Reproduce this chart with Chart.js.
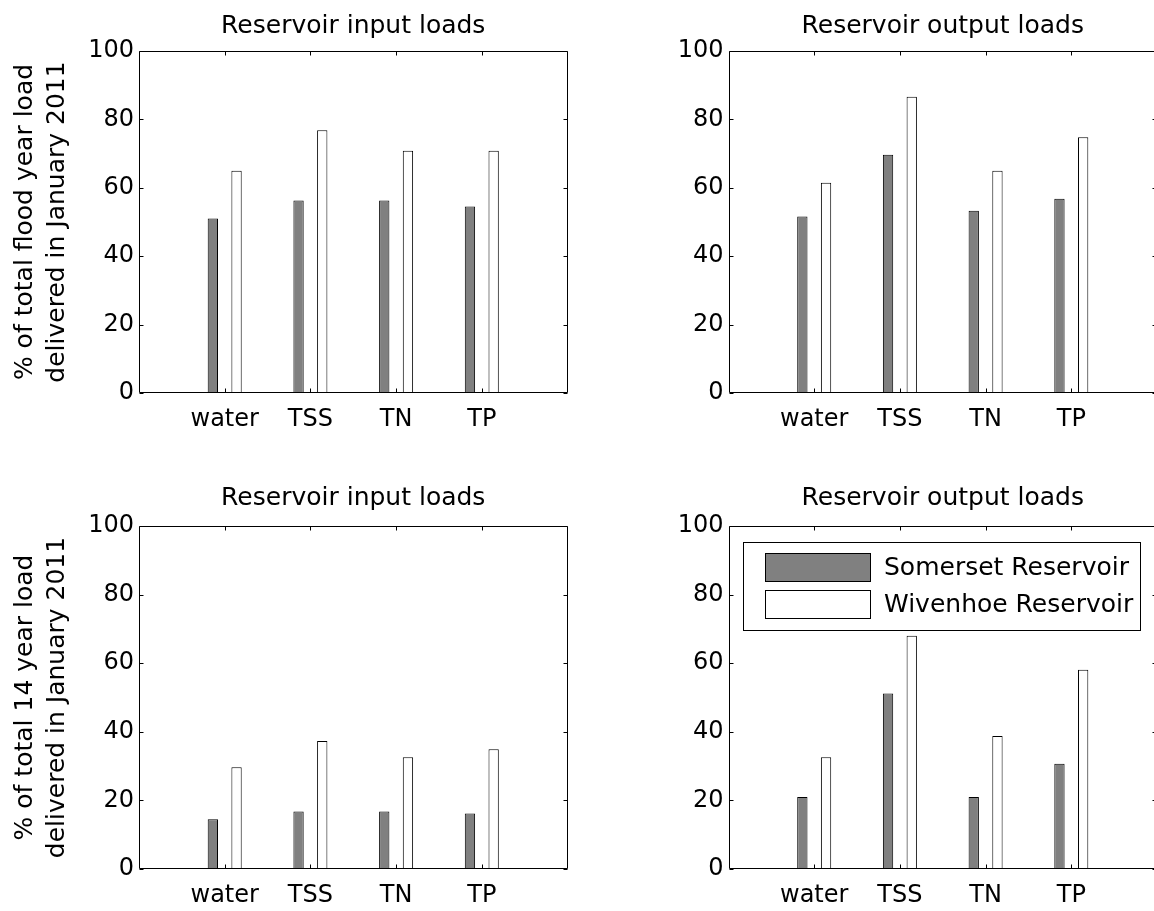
<!DOCTYPE html>
<html>
<head>
<meta charset="utf-8">
<title>Reservoir loads delivered in January 2011</title>
<script src="https://cdn.jsdelivr.net/npm/chart.js@4.4.1/dist/chart.umd.min.js"></script>
<style>
  html, body { margin: 0; padding: 0; background: #fff; overflow: hidden; }
  #figure { position: relative; width: 1154px; height: 911px; overflow: hidden; }
  #figure canvas { position: absolute; display: block; }
</style>
</head>
<body>
<div id="figure">
  <canvas id="floodInput" width="580" height="455" style="left:0;top:0"></canvas>
  <canvas id="floodOutput" width="580" height="455" style="left:580px;top:0"></canvas>
  <canvas id="longInput" width="580" height="456" style="left:0;top:455px"></canvas>
  <canvas id="longOutput" width="580" height="456" style="left:580px;top:455px"></canvas>
</div>
<script>
(function () {
    'use strict';

    // data (% of load delivered in January 2011)
    const categories = ['water', 'TSS', 'TN', 'TP'];
    const seriesNames = ['Somerset Reservoir', 'Wivenhoe Reservoir'];
    const yTicks = [0, 20, 40, 60, 80, 100];

    const floodInputSomerset = [51.0, 56.3, 56.3, 54.5];
    const floodInputWivenhoe = [65.0, 76.8, 70.8, 70.8];
    const floodOutputSomerset = [51.6, 69.7, 53.3, 56.8];
    const floodOutputWivenhoe = [61.5, 86.6, 65.0, 74.8];
    const longInputSomerset = [14.5, 16.8, 16.8, 16.2];
    const longInputWivenhoe = [29.7, 37.3, 32.6, 34.9];
    const longOutputSomerset = [21.0, 51.2, 21.0, 30.7];
    const longOutputWivenhoe = [32.6, 68.0, 38.8, 58.1];

    const floodYLabel = ['% of total flood year load', 'delivered in January 2011'];
    const longYLabel = ['% of total 14 year load', 'delivered in January 2011'];

    const palette = {
        somerset: '#808080',
        wivenhoe: '#ffffff',
        edge: '#000000',
        text: '#000000'
    };

    Chart.defaults.font.family = "'DejaVu Sans', sans-serif";
    Chart.defaults.color = palette.text;

    // MATLAB-style box with inward tick marks on all four sides
    const axesFrame = {
        id: 'axesFrame',
        afterDatasetsDraw(chart, args, opts) {
            const { ctx, chartArea: area, scales: { x, y } } = chart;
            const len = opts.tickLength || 4;
            const left = Math.round(area.left) + 0.5;
            const right = Math.round(area.right) - 0.5;
            const top = Math.round(area.top) + 0.5;
            const bottom = Math.round(area.bottom) - 0.5;
            ctx.save();
            ctx.strokeStyle = palette.edge;
            ctx.lineWidth = 1;
            ctx.beginPath();
            ctx.rect(left, top, right - left, bottom - top);
            x.ticks.forEach((tick, i) => {
                if (!tick.label) return;
                const px = Math.round(x.getPixelForTick(i)) + 0.5;
                ctx.moveTo(px, bottom);
                ctx.lineTo(px, bottom - len);
                ctx.moveTo(px, top);
                ctx.lineTo(px, top + len);
            });
            y.ticks.forEach((tick) => {
                const py = Math.round(y.getPixelForValue(tick.value)) + 0.5;
                ctx.moveTo(left, py);
                ctx.lineTo(left + len, py);
                ctx.moveTo(right, py);
                ctx.lineTo(right - len, py);
            });
            ctx.stroke();
            ctx.restore();
        }
    };

    // framed legend floating inside the plot area
    const boxLegend = {
        id: 'boxLegend',
        afterDraw(chart, args, opts) {
            if (!opts.display) return;
            const { ctx, chartArea: area } = chart;
            const bx = Math.round(area.left + opts.left) + 0.5;
            const by = Math.round(area.top + opts.top) + 0.5;
            ctx.save();
            ctx.fillStyle = '#ffffff';
            ctx.strokeStyle = palette.edge;
            ctx.lineWidth = 1;
            ctx.fillRect(bx, by, opts.width, opts.height);
            ctx.strokeRect(bx, by, opts.width, opts.height);
            ctx.font = opts.fontSize + "px 'DejaVu Sans', sans-serif";
            ctx.textBaseline = 'middle';
            ctx.textAlign = 'left';
            chart.data.datasets.forEach((ds, i) => {
                const sy = Math.round(by + opts.rowTop + i * opts.rowStep) + 0.5;
                const sx = Math.round(bx + opts.swatchLeft) + 0.5;
                ctx.fillStyle = ds.backgroundColor;
                ctx.fillRect(sx, sy, opts.swatchWidth, opts.swatchHeight);
                ctx.strokeRect(sx, sy, opts.swatchWidth, opts.swatchHeight);
                ctx.fillStyle = palette.text;
                ctx.fillText(ds.label, bx + opts.textLeft, sy + opts.swatchHeight / 2 + 1);
            });
            ctx.restore();
        }
    };

    function padded(values) {
        return [null, ...values, null];
    }

    function makePanel(id, cfg) {
        const canvas = document.getElementById(id);
        if (!canvas) return null;
        return new Chart(canvas, {
            type: 'bar',
            data: {
                labels: ['', ...categories, ''],
                datasets: [
                    {
                        label: seriesNames[0],
                        data: padded(cfg.somerset),
                        backgroundColor: palette.somerset,
                        borderColor: palette.edge,
                        borderWidth: 1,
                        borderSkipped: false
                    },
                    {
                        label: seriesNames[1],
                        data: padded(cfg.wivenhoe),
                        backgroundColor: palette.wivenhoe,
                        borderColor: palette.edge,
                        borderWidth: 1,
                        borderSkipped: false
                    }
                ]
            },
            options: {
                responsive: false,
                animation: false,
                events: [],
                layout: { padding: { left: 0, top: 0, right: cfg.padRight, bottom: 0 } },
                datasets: { bar: { categoryPercentage: 0.553, barPercentage: 0.435 } },
                plugins: {
                    legend: { display: false },
                    tooltip: { enabled: false },
                    title: {
                        display: true,
                        fullSize: false,
                        text: cfg.title,
                        color: palette.text,
                        font: { size: 25, weight: 'normal', lineHeight: 1.2 },
                        padding: { top: cfg.titleTop, bottom: cfg.titleBottom }
                    },
                    axesFrame: { tickLength: 4 },
                    boxLegend: cfg.legend || { display: false }
                },
                scales: {
                    x: {
                        offset: false,
                        grid: { display: false, drawTicks: false },
                        border: { display: false },
                        ticks: {
                            autoSkip: false,
                            maxRotation: 0,
                            padding: 12,
                            color: palette.text,
                            font: { size: 24 }
                        },
                        afterFit: (scale) => {
                            scale.height = cfg.xHeight;
                            // edge labels are empty, so no side padding is needed
                            scale.paddingLeft = 0;
                            scale.paddingRight = 0;
                        }
                    },
                    y: {
                        min: 0,
                        max: 100,
                        grid: { display: false, drawTicks: false },
                        border: { display: false },
                        ticks: {
                            padding: 5,
                            color: palette.text,
                            font: { size: 24 }
                        },
                        afterBuildTicks: (scale) => {
                            scale.ticks = yTicks.map((v) => ({ value: v }));
                        },
                        title: {
                            display: !!cfg.yLabel,
                            text: cfg.yLabel || '',
                            color: palette.text,
                            font: { size: 25, lineHeight: 1.28 },
                            padding: { top: 9, bottom: 0 }
                        },
                        afterFit: (scale) => { scale.width = cfg.yWidth; }
                    }
                }
            },
            plugins: [axesFrame, boxLegend]
        });
    }

    makePanel('floodInput', {
        title: 'Reservoir input loads',
        somerset: floodInputSomerset,
        wivenhoe: floodInputWivenhoe,
        yLabel: floodYLabel,
        yWidth: 139,
        padRight: 12.5,
        titleTop: 11,
        titleBottom: 10,
        xHeight: 62
    });

    makePanel('floodOutput', {
        title: 'Reservoir output loads',
        somerset: floodOutputSomerset,
        wivenhoe: floodOutputWivenhoe,
        yWidth: 148.5,
        padRight: 3,
        titleTop: 11,
        titleBottom: 10,
        xHeight: 62
    });

    makePanel('longInput', {
        title: 'Reservoir input loads',
        somerset: longInputSomerset,
        wivenhoe: longInputWivenhoe,
        yLabel: longYLabel,
        yWidth: 139,
        padRight: 12.5,
        titleTop: 28,
        titleBottom: 13,
        xHeight: 42
    });

    makePanel('longOutput', {
        title: 'Reservoir output loads',
        somerset: longOutputSomerset,
        wivenhoe: longOutputWivenhoe,
        yWidth: 148.5,
        padRight: 3,
        titleTop: 28,
        titleBottom: 13,
        xHeight: 42,
        legend: {
            display: true,
            left: 14.5,
            top: 16,
            width: 397,
            height: 88,
            swatchLeft: 21.5,
            swatchWidth: 105,
            swatchHeight: 28,
            rowTop: 10,
            rowStep: 37.7,
            textLeft: 140.5,
            fontSize: 25
        }
    });
})();
</script>
</body>
</html>
